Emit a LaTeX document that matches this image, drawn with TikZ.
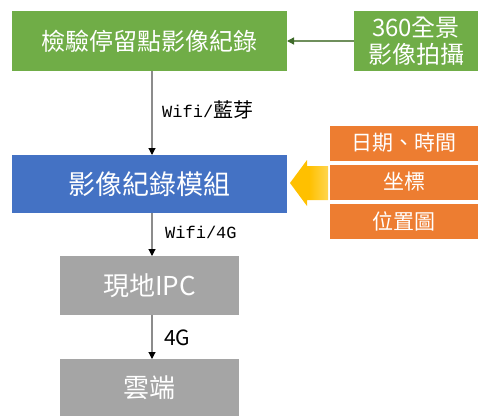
\documentclass[tikz,border=0pt]{standalone}
\usepackage{fontspec}
\setmainfont{Noto Sans CJK TC}
\newfontfamily\monofnt{Liberation Mono}
\usetikzlibrary{arrows.meta,calc}
\definecolor{gbox}{HTML}{70AD47}
\definecolor{bbox}{HTML}{4472C4}
\definecolor{obox}{HTML}{ED7D31}
\definecolor{grbox}{HTML}{A5A5A5}
\definecolor{ylw}{HTML}{FFC000}
\definecolor{ylwl}{HTML}{FFD54F}
\definecolor{conn}{HTML}{8C8C8C}
\definecolor{gconn}{HTML}{6F8F5C}
\definecolor{gtip}{HTML}{3F6B2A}
\begin{document}
\begin{tikzpicture}[x=1pt,y=-1pt,
  box/.style={rectangle,inner sep=0pt,outer sep=0pt,text=white,align=center},
  conline/.style={draw=conn,line width=1.1pt,-{Triangle[color=black,width=7pt,length=7pt]}},
  lbl/.style={anchor=west,inner sep=0pt,text=black}]
\useasboundingbox (0,0) rectangle (478,415);
\node[box,fill=gbox,minimum width=275pt,minimum height=60pt,font=\fontsize{24}{27}\selectfont] (g1) at (149.5,41) {檢驗停留點影像紀錄};
\node[box,fill=gbox,minimum width=124pt,minimum height=60pt,font=\fontsize{24}{27}\selectfont] (g2) at (416,41) {360全景\\影像拍攝};
\node[box,fill=bbox,minimum width=275pt,minimum height=58pt,font=\fontsize{27}{30}\selectfont] (b1) at (149.5,184) {影像紀錄模組};
\node[box,fill=obox,minimum width=148pt,minimum height=35pt,font=\fontsize{21}{24}\selectfont] (o1) at (404,143) {日期、時間};
\node[box,fill=obox,minimum width=148pt,minimum height=35pt,font=\fontsize{21}{24}\selectfont] (o2) at (404,182) {坐標};
\node[box,fill=obox,minimum width=148pt,minimum height=35pt,font=\fontsize{21}{24}\selectfont] (o3) at (404,221.5) {位置圖};
\node[box,fill=grbox,minimum width=179pt,minimum height=59pt,font=\fontsize{26}{29}\selectfont] (p1) at (149.5,285.5) {現地IPC};
\node[box,fill=grbox,minimum width=179pt,minimum height=58pt,font=\fontsize{26}{29}\selectfont] (c1) at (149.5,388) {雲端};
% connectors
\draw[draw=gconn,line width=1.4pt,-{Triangle[color=gtip,width=7pt,length=7pt]}] (g2.west) -- (g1.east);
\draw[conline] ($(g1.south)+(2.5,0)$) -- ($(b1.north)+(2.5,0)$);
\draw[conline] ($(b1.south)+(2.5,0)$) -- ($(p1.north)+(2.5,0)$);
\draw[conline] ($(p1.south)+(2.5,0)$) -- ($(c1.north)+(2.5,0)$);
% labels
\node[lbl,font=\fontsize{20}{22}\selectfont] (l1) at (162,110) {{\monofnt\fontsize{17}{20}\selectfont Wifi/}藍芽};
\node[lbl,font=\monofnt\fontsize{17}{20}\selectfont] (l2) at (165,232) {Wifi/4G};
\node[lbl,font=\fontsize{21}{24}\selectfont] (l3) at (164,338) {4G};
% yellow block arrow
\shade[left color=ylw,right color=ylwl,middle color=ylw]
  (290,183) -- (307,160) -- (307,166) -- (328,166) -- (328,200) -- (307,200) -- (307,206) -- cycle;
\end{tikzpicture}
\end{document}
